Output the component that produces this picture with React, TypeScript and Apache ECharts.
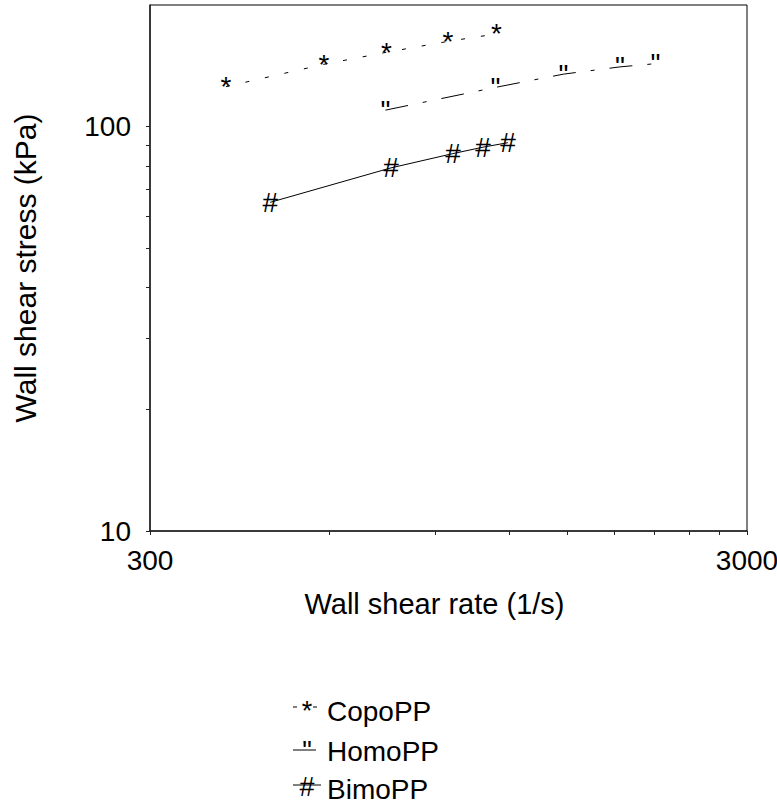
import React, { useEffect, useRef } from "react";
import * as echarts from "echarts";

const FONT = "'Liberation Sans', Arial, Helvetica, sans-serif";

// Series data (wall shear rate in 1/s, wall shear stress in kPa)
const copoRate = [402, 587, 747, 947, 1141];
const copoStress = [125.6, 142.7, 152.8, 162.6, 169.6];
const homoRate = [744, 1137, 1478, 1838, 2108];
const homoStress = [109.9, 125.1, 134.9, 140.6, 143.2];
const bimoRate = [477, 760, 965, 1084, 1193];
const bimoStress = [65.0, 79.1, 85.8, 89.0, 91.3];

const seriesNames = ["CopoPP", "HomoPP", "BimoPP"];
const seriesGlyphs = ["*", "\"", "#"];

// Axis ticks and labels
const xTickValues = [300, 600, 900, 1200, 1500, 1800, 2100, 2400, 2700, 3000];
const xLabelValues = [300, 3000];
const yTickValues = [10, 20, 30, 40, 50, 60, 70, 80, 90, 100];
const yLabelValues = [10, 100];

const pairs = (xs: number[], ys: number[]) => xs.map((x, i) => [x, ys[i]]);

export default function App() {
  const ref = useRef<HTMLDivElement>(null);
  useEffect(() => {
    if (!ref.current) return;
    const chart = echarts.init(ref.current, null, { renderer: "svg" });
    const dashes: any[] = [[4, 16], [23, 15, 4, 15], "solid"];
    const datasets = [
      pairs(copoRate, copoStress),
      pairs(homoRate, homoStress),
      pairs(bimoRate, bimoStress),
    ];
    const series = datasets.map((d, i) => ({
      type: "line",
      name: seriesNames[i],
      data: d,
      symbol: "circle",
      symbolSize: 1,
      showSymbol: true,
      itemStyle: { color: "rgba(0,0,0,0)" },
      lineStyle: { color: "#000", width: 1, type: dashes[i] },
      label: {
        show: true,
        position: "inside",
        formatter: seriesGlyphs[i],
        fontSize: 28,
        color: "#000",
        fontFamily: FONT,
      },
      labelLayout: { hideOverlap: false },
      emphasis: { disabled: true },
      z: 3,
    }));

    // legend drawn as graphic
    const legendRows = [
      { y: 711, lineY: 707, glyphY: 711, dash: [4, 16] },
      { y: 751, lineY: 750, glyphY: 751, dash: [23, 15, 4, 15] },
      { y: 789, lineY: 785, glyphY: 787, dash: null },
    ];
    const legendElements: any[] = [];
    legendRows.forEach((r, i) => {
      legendElements.push({
        type: "line",
        shape: { x1: 293, y1: r.lineY, x2: 321, y2: r.lineY },
        style: { stroke: "#000", lineWidth: 1, lineDash: r.dash || undefined },
      });
      legendElements.push({
        type: "text",
        x: 307,
        y: r.glyphY,
        style: {
          text: seriesGlyphs[i],
          fontSize: 27,
          fontFamily: FONT,
          fill: "#000",
          align: "center",
          verticalAlign: "middle",
        },
      });
      legendElements.push({
        type: "text",
        x: 327,
        y: r.y,
        style: {
          text: seriesNames[i],
          fontSize: 28,
          fontFamily: FONT,
          fill: "#000",
          align: "left",
          verticalAlign: "middle",
        },
      });
    });

    const fmt = (v: number) => String(v);

    chart.setOption({
      animation: false,
      backgroundColor: "#fff",
      grid: {
        left: 150,
        right: 30,
        top: 5,
        bottom: 275,
        show: true,
        borderColor: "#000",
        borderWidth: 1,
        containLabel: false,
        outerBoundsMode: "none",
      },
      xAxis: {
        type: "log",
        logBase: 10,
        min: 300,
        max: 3000,
        name: "Wall shear rate (1/s)",
        nameLocation: "middle",
        nameGap: 58,
        nameTextStyle: { fontSize: 29, color: "#000", fontFamily: FONT, padding: [0, 28, 0, 0] },
        axisLine: { show: true, lineStyle: { color: "#222", width: 1.5 } },
        axisTick: { show: true, length: 4, customValues: xTickValues, lineStyle: { color: "#222" } },
        axisLabel: {
          customValues: xLabelValues,
          formatter: fmt,
          fontSize: 28,
          color: "#000",
          fontFamily: FONT,
          margin: 15,
        },
        splitLine: { show: false },
        minorTick: { show: false },
      },
      yAxis: {
        type: "log",
        logBase: 10,
        min: 10,
        max: 200,
        name: "Wall shear stress (kPa)",
        nameLocation: "middle",
        nameGap: 110,
        nameTextStyle: { fontSize: 30, color: "#000", fontFamily: FONT },
        axisLine: { show: true, lineStyle: { color: "#222", width: 1.5 } },
        axisTick: { show: true, length: 4, customValues: yTickValues, lineStyle: { color: "#222" } },
        axisLabel: {
          customValues: yLabelValues,
          formatter: fmt,
          fontSize: 28,
          color: "#000",
          fontFamily: FONT,
          margin: 19,
        },
        splitLine: { show: false },
        minorTick: { show: false },
      },
      series,
      graphic: { elements: legendElements },
    });
    return () => chart.dispose();
  }, []);
  return (
    <div
      ref={ref}
      style={{ position: "fixed", left: 0, top: 0, width: 777, height: 806, background: "#fff" }}
    />
  );
}
